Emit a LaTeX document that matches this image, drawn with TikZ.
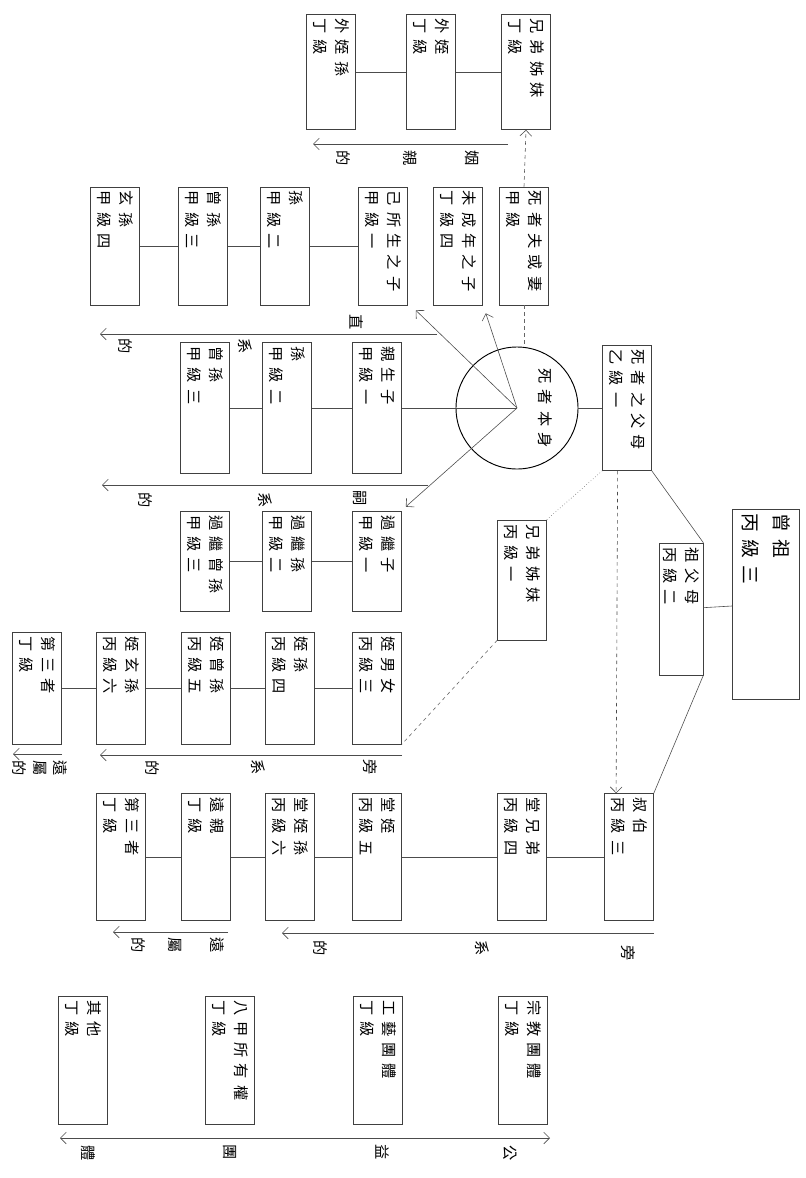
\documentclass[tikz,border=0pt]{standalone}
\usepackage{fontspec}
\setmainfont{Noto Sans CJK TC}[LetterSpace=40]
\usetikzlibrary{arrows.meta, positioning}

\begin{document}
\begin{tikzpicture}[
    x=0.03cm, y=-0.03cm,
    kin/.style={
      rectangle, draw=black!75, line width=0.5pt,
      rotate=-90, text width=#1, inner xsep=0.12cm,
      minimum height=1.47cm, align=left,
      font=\fontsize{13}{19}\selectfont
    },
    kin/.default=3.3cm,
    lab/.style={rotate=-90, inner sep=1pt, font=\fontsize{13}{13}\selectfont},
    link/.style={draw=black!70, line width=0.5pt},
    arrow/.style={-{Straight Barb[length=5pt]}, draw=black!70, line width=0.5pt},
    tie/.style={dashed, draw=black!60, line width=0.5pt}
  ]
    \useasboundingbox (0,0) rectangle (805,1178);

    % spouse side
    \node[kin=3.21cm] (t1) at (331,72) {外姪孫\\丁級};
    \node[kin=3.21cm] (t2) at (431,72) {外姪\\丁級};
    \node[kin=3.21cm] (t3) at (526,72) {兄弟姊妹\\丁級};

    % own descendants
    \node[kin] (b1) at (115,246) {玄孫\\甲級四};
    \node[kin] (b2) at (203,246) {曾孫\\甲級三};
    \node[kin] (b3) at (285,246) {孫\\甲級二};
    \node[kin] (b4) at (383,246) {己所生之子\\甲級一};
    \node[kin] (b5) at (458,246) {未成年之子\\丁級四};
    \node[kin] (b6) at (524,246) {死者夫或妻\\甲級};

    \node[kin=3.69cm] (c1) at (205,408) {曾孫\\甲級三};
    \node[kin=3.69cm] (c2) at (287,408) {孫\\甲級二};
    \node[kin=3.69cm] (c3) at (377,408) {親生子\\甲級一};
    \node[draw, circle, line width=0.8pt, minimum size=3.66cm] (self) at (517,408) {};
    \node[lab] (selfname) at (545,408) {死者本身};
    \node[kin=3.51cm] (c4) at (627,408) {死者之父母\\乙級一};

    % adopted line
    \node[kin=2.76cm] (d1) at (205,561) {過繼曾孫\\甲級三};
    \node[kin=2.76cm] (d2) at (287,561) {過繼孫\\甲級二};
    \node[kin=2.76cm] (d3) at (377,561) {過繼子\\甲級一};

    % ancestors
    \node[kin=3.36cm] (sib) at (522,580) {兄弟姊妹\\丙級一};
    \node[kin=3.72cm, minimum height=1.29cm] (gpa) at (681,609) {祖父母\\丙級二};
    \node[kin=5.46cm, minimum height=2.0cm, font=\fontsize{16}{26}\selectfont] (ggpa) at (766,604) {曾祖\\丙級三};

    % nephews
    \node[kin=3.12cm] (e1) at (37,688) {第三者\\丁級};
    \node[kin=3.12cm] (e2) at (121,688) {姪玄孫\\丙級六};
    \node[kin=3.12cm] (e3) at (206,688) {姪曾孫\\丙級五};
    \node[kin=3.12cm] (e4) at (290,688) {姪孫\\丙級四};
    \node[kin=3.12cm] (e5) at (377,688) {姪男女\\丙級三};

    % uncles
    \node[kin=3.57cm] (f1) at (121,857) {第三者\\丁級};
    \node[kin=3.57cm] (f2) at (206,857) {遠親\\丁級};
    \node[kin=3.57cm] (f3) at (290,857) {堂姪孫\\丙級六};
    \node[kin=3.57cm] (f4) at (377,857) {堂姪\\丙級五};
    \node[kin=3.57cm] (f5) at (522,857) {堂兄弟\\丙級四};
    \node[kin=3.57cm] (f6) at (629,857) {叔伯\\丙級三};

    % bodies
    \node[kin=3.6cm] (g1) at (83,1060) {其他\\丁級};
    \node[kin=3.6cm] (g2) at (230,1060) {八甲所有權\\丁級};
    \node[kin=3.6cm] (g3) at (378,1060) {工藝團體\\丁級};
    \node[kin=3.6cm] (g4) at (523,1060) {宗教團體\\丁級};

    % rows
    \draw[link] (t1) -- (t2);
    \draw[link] (t2) -- (t3);
    \draw[link] (b1) -- (b2);
    \draw[link] (b2) -- (b3);
    \draw[link] (b3) -- (b4);
    \draw[link] (c1) -- (c2);
    \draw[link] (c2) -- (c3);
    \draw[link] (c3) -- (self.center);
    \draw[link] (self) -- (c4);
    \draw[link] (d1) -- (d2);
    \draw[link] (d2) -- (d3);
    \draw[link] (e1) -- (e2);
    \draw[link] (e2) -- (e3);
    \draw[link] (e3) -- (e4);
    \draw[link] (e4) -- (e5);
    \draw[link] (f1) -- (f2);
    \draw[link] (f2) -- (f3);
    \draw[link] (f3) -- (f4);
    \draw[link] (f4) -- (f5);
    \draw[link] (f5) -- (f6);
    \draw[link] (gpa) -- (ggpa);
    \draw[link] (c4.north east) -- (gpa.north west);
    \draw[link] (gpa.north east) -- (f6.north west);

    % from the deceased
    \draw[arrow] (self.center) -- ([shift={(8,5)}]b4.north east);
    \draw[arrow] (self.center) -- ([shift={(3,8)}]b5.north east);
    \draw[arrow] (self.center) -- ([shift={(4,-4)}]d3.north west);
    \draw[tie] (b6.east) -- (b6.east |- self.north);
    \draw[tie, arrow] (b6.west) -- (t3.east);
    \draw[tie, arrow] ([xshift=-8]c4.east) -- ([xshift=-11]f6.west);
    \draw[tie, dotted] (c4.south east) -- (sib.north west);
    \draw[tie] (sib.south east) -- (e5.north east);

    % reading lines
    \coordinate (l1a) at (508,144); \coordinate (l1b) at (313,144);
    \coordinate (l2a) at (437,334); \coordinate (l2b) at (100,334);
    \coordinate (l3a) at (428,485); \coordinate (l3b) at (102,485);
    \coordinate (l4a) at (402,755); \coordinate (l4b) at (100,755);
    \coordinate (l4c) at (62,754);  \coordinate (l4d) at (13,754);
    \coordinate (l5a) at (654,933); \coordinate (l5b) at (282,933);
    \coordinate (l5c) at (228,932); \coordinate (l5d) at (113,932);
    \coordinate (l6a) at (550,1138); \coordinate (l6b) at (60,1138);
    \draw[arrow] (l1a) -- (l1b);
    \draw[arrow] (l2a) -- (l2b);
    \draw[arrow] (l3a) -- (l3b);
    \draw[arrow] (l4a) -- (l4b);
    \draw[arrow] (l4c) -- (l4d);
    \draw[arrow] (l5a) -- (l5b);
    \draw[arrow] (l5c) -- (l5d);
    \draw[arrow, {Straight Barb[length=5pt]}-{Straight Barb[length=5pt]}] (l6a) -- (l6b);

    \node[lab] (w1) at (472,158) {姻};
    \node[lab] (w2) at (410,158) {親};
    \node[lab] (w3) at (343,158) {的};
    \node[lab] (w4) at (357,322) {直};
    \node[lab] (w5) at (245,346) {系};
    \node[lab] (w6) at (125,346) {的};
    \node[lab] (w7) at (360,498) {嗣};
    \node[lab] (w8) at (265,500) {系};
    \node[lab] (w9) at (145,500) {的};
    \node[lab] (w10) at (370,767) {旁};
    \node[lab] (w11) at (258,767) {系};
    \node[lab] (w12) at (152,768) {的};
    \node[lab] (w13) at (60,768) {遠};
    \node[lab] (w14) at (40,768) {屬};
    \node[lab] (w15) at (19,768) {的};
    \node[lab] (w16) at (628,953) {旁};
    \node[lab] (w17) at (482,948) {系};
    \node[lab] (w18) at (320,948) {的};
    \node[lab] (w19) at (217,945) {遠};
    \node[lab] (w20) at (175,945) {屬};
    \node[lab] (w21) at (138,945) {的};
    \node[lab] (w22) at (510,1153) {公};
    \node[lab] (w23) at (383,1152) {益};
    \node[lab] (w24) at (230,1152) {團};
    \node[lab] (w25) at (88,1153) {體};
\end{tikzpicture}
\end{document}
